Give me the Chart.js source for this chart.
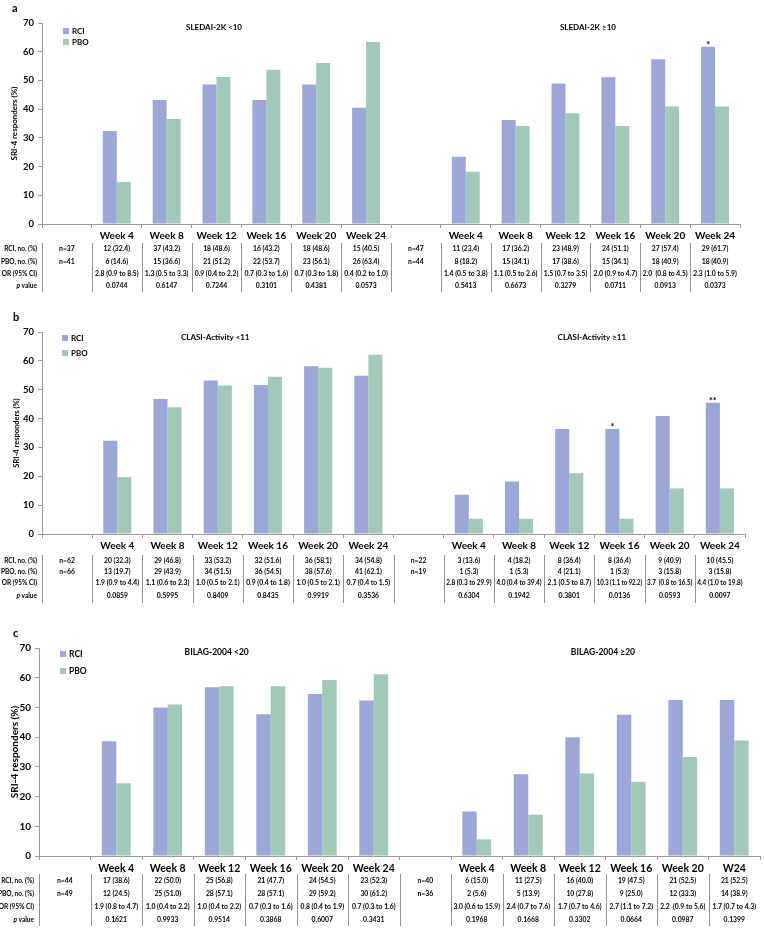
<!DOCTYPE html>
<html>
<head>
<meta charset="utf-8">
<script src="https://cdn.jsdelivr.net/npm/chart.js@4.4.1/dist/chart.umd.min.js"></script>
<style>
  html, body { margin: 0; padding: 0; background: #fff; }
  #page { position: relative; width: 764px; height: 928px; }
  .panel { position: absolute; left: 0; width: 764px; }
</style>
</head>
<body>
<div id="page">
  <div class="panel" style="top:0;height:295px"><canvas id="chartA"></canvas></div>
  <div class="panel" style="top:295px;height:310px"><canvas id="chartB"></canvas></div>
  <div class="panel" style="top:605px;height:323px"><canvas id="chartC"></canvas></div>
</div>
<script>
// categories
const weeks = ['Week 4', 'Week 8', 'Week 12', 'Week 16', 'Week 20', 'Week 24'];
const labelsAB = ['', ...weeks, '', ...weeks];
const labelsC = ['', ...weeks, '', 'Week 4', 'Week 8', 'Week 12', 'Week 16', 'Week 20', 'W24'];

// panel a - SLEDAI-2K
const titlesA = ['SLEDAI-2K <10', 'SLEDAI-2K \u226510'];
const rciA = [null, 32.4, 43.2, 48.6, 43.2, 48.6, 40.5, null, 23.4, 36.2, 48.9, 51.1, 57.4, 61.7];
const pboA = [null, 14.6, 36.6, 51.2, 53.7, 56.1, 63.4, null, 18.2, 34.1, 38.6, 34.1, 40.9, 40.9];
const rciTextA = ['n=37', '12 (32.4)', '37 (43.2)', '18 (48.6)', '16 (43.2)', '18 (48.6)', '15 (40.5)',
  'n=47', '11 (23.4)', '17 (36.2)', '23 (48.9)', '24 (51.1)', '27 (57.4)', '29 (61.7)'];
const pboTextA = ['n=41', '6 (14.6)', '15 (36.6)', '21 (51.2)', '22 (53.7)', '23 (56.1)', '26 (63.4)',
  'n=44', '8 (18.2)', '15 (34.1)', '17 (38.6)', '15 (34.1)', '18 (40.9)', '18 (40.9)'];
const orTextA = ['', '2.8 (0.9 to 8.5)', '1.3 (0.5 to 3.3)', '0.9 (0.4 to 2.2)', '0.7 (0.3 to 1.6)', '0.7 (0.3 to 1.8)', '0.4 (0.2 to 1.0)',
  '', '1.4 (0.5 to 3.8)', '1.1 (0.5 to 2.6)', '1.5 (0.7 to 3.5)', '2.0 (0.9 to 4.7)', '2.0  (0.8 to 4.5)', '2.3 (1.0 to 5.9)'];
const pTextA = ['', '0.0744', '0.6147', '0.7244', '0.3101', '0.4381', '0.0573',
  '', '0.5413', '0.6673', '0.3279', '0.0711', '0.0913', '0.0373'];
const starsA = ['', '', '', '', '', '', '', '', '', '', '', '', '', '*'];

// panel b - CLASI-Activity
const titlesB = ['CLASI-Activity <11', 'CLASI-Activity \u226511'];
const rciB = [null, 32.3, 46.8, 53.2, 51.6, 58.1, 54.8, null, 13.6, 18.2, 36.4, 36.4, 40.9, 45.5];
const pboB = [null, 19.7, 43.9, 51.5, 54.5, 57.6, 62.1, null, 5.3, 5.3, 21.1, 5.3, 15.8, 15.8];
const rciTextB = ['n=62', '20 (32.3)', '29 (46.8)', '33 (53.2)', '32 (51.6)', '36 (58.1)', '34 (54.8)',
  'n=22', '3 (13.6)', '4 (18.2)', '8 (36.4)', '8 (36.4)', '9 (40.9)', '10 (45.5)'];
const pboTextB = ['n=66', '13 (19.7)', '29 (43.9)', '34 (51.5)', '36 (54.5)', '38 (57.6)', '41 (62.1)',
  'n=19', '1 (5.3)', '1 (5.3)', '4 (21.1)', '1 (5.3)', '3 (15.8)', '3 (15.8)'];
const orTextB = ['', '1.9 (0.9 to 4.4)', '1.1 (0.6 to 2.3)', '1.0 (0.5 to 2.1)', '0.9 (0.4 to 1.8)', '1.0 (0.5 to 2.1)', '0.7 (0.4 to 1.5)',
  '', '2.8 (0.3 to 29.9)', '4.0 (0.4 to 39.4)', '2.1 (0.5 to 8.7)', '10.3 (1.1 to 92.2)', '3.7  (0.8 to 16.5)', '4.4 (1.0 to 19.8)'];
const pTextB = ['', '0.0859', '0.5995', '0.8409', '0.8435', '0.9919', '0.3536',
  '', '0.6304', '0.1942', '0.3801', '0.0136', '0.0593', '0.0097'];
const starsB = ['', '', '', '', '', '', '', '', '', '', '', '*', '', '**'];

// panel c - BILAG-2004
const titlesC = ['BILAG-2004 <20', 'BILAG-2004 \u226520'];
const rciC = [null, 38.6, 50.0, 56.8, 47.7, 54.5, 52.3, null, 15.0, 27.5, 40.0, 47.5, 52.5, 52.5];
const pboC = [null, 24.5, 51.0, 57.1, 57.1, 59.2, 61.2, null, 5.6, 13.9, 27.8, 25.0, 33.3, 38.9];
const rciTextC = ['n=44', '17 (38.6)', '22 (50.0)', '25 (56.8)', '21 (47.7)', '24 (54.5)', '23 (52.3)',
  'n=40', '6 (15.0)', '11 (27.5)', '16 (40.0)', '19 (47.5)', '21 (52.5)', '21 (52.5)'];
const pboTextC = ['n=49', '12 (24.5)', '25 (51.0)', '28 (57.1)', '28 (57.1)', '29 (59.2)', '30 (61.2)',
  'n=36', '2 (5.6)', '5 (13.9)', '10 (27.8)', '9 (25.0)', '12 (33.3)', '14 (38.9)'];
const orTextC = ['', '1.9 (0.8 to 4.7)', '1.0 (0.4 to 2.2)', '1.0 (0.4 to 2.2)', '0.7 (0.3 to 1.6)', '0.8 (0.4 to 1.9)', '0.7 (0.3 to 1.6)',
  '', '3.0 (0.6 to 15.9)', '2.4 (0.7 to 7.6)', '1.7 (0.7 to 4.6)', '2.7 (1.1 to 7.2)', '2.2  (0.9 to 5.6)', '1.7 (0.7 to 4.3)'];
const pTextC = ['', '0.1621', '0.9933', '0.9514', '0.3868', '0.6007', '0.3431',
  '', '0.1968', '0.1668', '0.3302', '0.0664', '0.0987', '0.1399'];
const starsC = [];

const rowLabels = ['RCI, no. (%)', 'PBO, no. (%)', 'OR (95% CI)', 'p value'];

const RCI_COLOR = '#9ba7d7';
const PBO_COLOR = '#a2c8b8';
const AXIS = '#9a9a9a';
const FONT = 'Lato, "Open Sans", sans-serif';

// draws panel letter, group titles, legend, stars and the table under the axis
const panelDecor = {
  id: 'panelDecor',
  afterDraw(chart, args, o) {
    const ctx = chart.ctx;
    const x = chart.scales.x;
    const L = o.layout;
    const colW = x.getPixelForValue(1) - x.getPixelForValue(0);
    ctx.save();
    ctx.fillStyle = '#000';
    ctx.textBaseline = 'middle';

    ctx.font = `bold ${L.letterSize}px ${FONT}`;
    ctx.textAlign = 'left';
    ctx.fillText(o.letter, L.letterX, L.letterY);

    ctx.font = `bold ${L.titleSize}px ${FONT}`;
    ctx.textAlign = 'center';
    o.titles.forEach((t, i) => ctx.fillText(t, x.getPixelForValue(L.titleAt[i]), L.titleY));

    // legend inside the plot, top left
    ctx.font = `bold ${L.legendSize}px ${FONT}`;
    ctx.textAlign = 'left';
    chart.data.datasets.forEach((ds, i) => {
      ctx.fillStyle = ds.backgroundColor;
      ctx.fillRect(L.legendX, L.legendY[i] - 3, 6, 6);
      ctx.fillStyle = '#000';
      ctx.fillText(ds.label, L.legendX + 9, L.legendY[i] + 0.5);
    });

    // significance marks over RCI bars
    const meta = chart.getDatasetMeta(0);
    ctx.font = `bold 9px ${FONT}`;
    ctx.textAlign = 'center';
    ctx.textBaseline = 'alphabetic';
    o.stars.forEach((s, i) => {
      if (s) ctx.fillText(s, meta.data[i].x, meta.data[i].y + 1);
    });

    // table
    ctx.textBaseline = 'middle';
    ctx.strokeStyle = '#777';
    ctx.lineWidth = 0.8;
    for (let i = 0; i < x.ticks.length; i++) {
      const px = Math.round(x.getPixelForValue(i - 0.5)) + 0.5;
      ctx.beginPath();
      ctx.moveTo(px, L.sepTop);
      ctx.lineTo(px, L.sepBottom);
      ctx.stroke();
    }
    o.rows.forEach((cells, r) => {
      const y = L.rowY[r];
      ctx.font = `bold ${L.rowLabelSize}px ${FONT}`;
      ctx.textAlign = 'right';
      const lab = rowLabels[r];
      const lx = L.left - 5;
      if (lab.startsWith('p ')) {
        const rest = lab.slice(1);
        ctx.fillText(rest, lx, y);
        const w = ctx.measureText(rest).width;
        ctx.font = `italic bold ${L.rowLabelSize}px ${FONT}`;
        ctx.fillText('p', lx - w, y);
      } else {
        ctx.fillText(lab, lx, y);
      }
      ctx.font = `bold ${L.tableSize}px ${FONT}`;
      ctx.textAlign = 'center';
      cells.forEach((c, i) => {
        if (c) ctx.fillText(c, x.getPixelForValue(i), y, colW - 5);
      });
    });
    ctx.restore();
  }
};

function makeChart(id, labels, rci, pbo, L, deco) {
  return new Chart(document.getElementById(id), {
    type: 'bar',
    data: {
      labels: labels,
      datasets: [
        { label: 'RCI', data: rci, backgroundColor: RCI_COLOR, categoryPercentage: 0.56, barPercentage: 1 },
        { label: 'PBO', data: pbo, backgroundColor: PBO_COLOR, categoryPercentage: 0.56, barPercentage: 1 }
      ]
    },
    options: {
      responsive: true,
      maintainAspectRatio: false,
      animation: false,
      layout: { padding: { top: L.top, right: 764 - L.right, left: 0, bottom: 0 } },
      plugins: {
        legend: { display: false },
        tooltip: { enabled: false },
        panelDecor: Object.assign({ layout: L }, deco)
      },
      scales: {
        x: {
          grid: { display: true, drawOnChartArea: false, tickLength: 4, color: AXIS },
          border: { color: AXIS },
          ticks: { color: '#000', font: { family: FONT, weight: 'bold', size: L.weekSize }, padding: 2, maxRotation: 0, autoSkip: false },
          afterFit: s => { s.height = L.h - L.bottom; }
        },
        y: {
          min: 0,
          max: 70,
          grid: { drawOnChartArea: false, tickLength: 4, color: AXIS },
          border: { color: AXIS },
          ticks: { stepSize: 10, color: '#000', font: { family: FONT, weight: 'bold', size: L.tickSize }, padding: 4 },
          title: {
            display: true,
            text: 'SRI-4 responders (%)',
            color: '#000',
            font: { family: FONT, weight: 'bold', size: L.yTitleSize },
            padding: { top: L.yTitlePad, bottom: 0 }
          },
          afterFit: s => { s.width = L.left; }
        }
      }
    },
    plugins: [panelDecor]
  });
}

const layoutA = {
  h: 295, top: 23, bottom: 224, left: 42, right: 740,
  letterX: 12, letterY: 8, letterSize: 11,
  titleAt: [2.95, 10.45], titleY: 27, titleSize: 8,
  legendX: 63, legendY: [31, 42], legendSize: 8,
  weekSize: 10, tickSize: 9.5, yTitleSize: 8, yTitlePad: 10,
  rowY: [249, 262, 274, 286], sepTop: 243, sepBottom: 292, rowLabelSize: 6.5, tableSize: 6.8
};
const layoutB = {
  h: 310, top: 37, bottom: 239, left: 42, right: 745,
  letterX: 13, letterY: 22, letterSize: 11,
  titleAt: [2.95, 10.45], titleY: 42, titleSize: 8,
  legendX: 62, legendY: [43, 58], legendSize: 8,
  weekSize: 10, tickSize: 9.5, yTitleSize: 7.5, yTitlePad: 12,
  rowY: [266, 277, 288, 301], sepTop: 260, sepBottom: 308, rowLabelSize: 6.5, tableSize: 6.8
};
const layoutC = {
  h: 323, top: 43, bottom: 251, left: 39, right: 760,
  letterX: 13, letterY: 28, letterSize: 11,
  titleAt: [2.95, 10.45], titleY: 47, titleSize: 8.5,
  legendX: 60, legendY: [49, 66], legendSize: 8.5,
  weekSize: 10.5, tickSize: 10, yTitleSize: 10, yTitlePad: 9,
  rowY: [276, 289, 302, 315], sepTop: 269, sepBottom: 321, rowLabelSize: 6.5, tableSize: 6.8
};

makeChart('chartA', labelsAB, rciA, pboA, layoutA,
  { letter: 'a', titles: titlesA, stars: starsA, rows: [rciTextA, pboTextA, orTextA, pTextA] });
makeChart('chartB', labelsAB, rciB, pboB, layoutB,
  { letter: 'b', titles: titlesB, stars: starsB, rows: [rciTextB, pboTextB, orTextB, pTextB] });
makeChart('chartC', labelsC, rciC, pboC, layoutC,
  { letter: 'c', titles: titlesC, stars: starsC, rows: [rciTextC, pboTextC, orTextC, pTextC] });
</script>
</body>
</html>
